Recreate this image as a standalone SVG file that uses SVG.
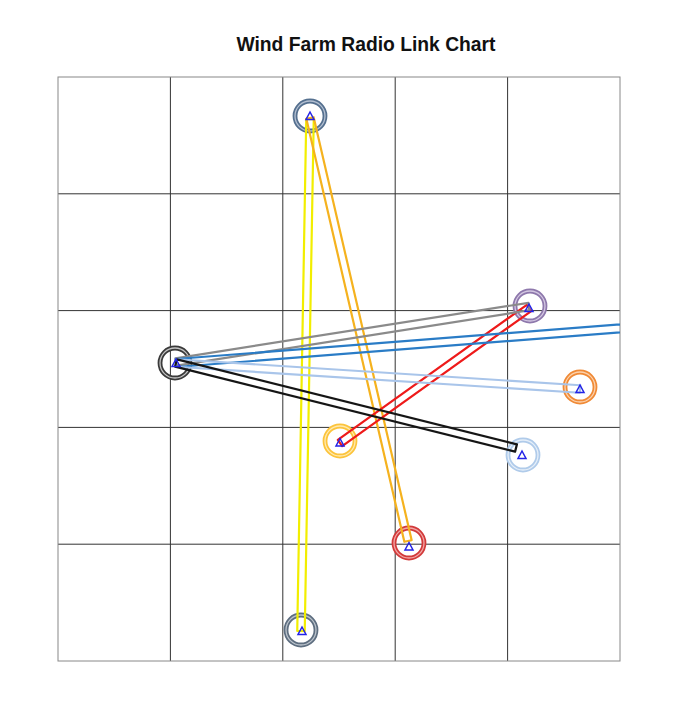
<svg xmlns="http://www.w3.org/2000/svg" width="675" height="720" viewBox="0 0 675 720">
<style>
.title{font-family:"Liberation Sans",Arial,sans-serif;font-size:19.3px;font-weight:bold;fill:#111;text-anchor:middle}
.grid{stroke:#333;stroke-width:1;fill:none}
.border{stroke:#888;stroke-width:1;fill:none}
.link{fill:none;stroke-width:2.2;stroke-linejoin:round}
.ringo{fill:none;stroke-width:4.8}
.ringi{fill:none;stroke-width:1.3}
.tri{fill:none;stroke:#2323e6;stroke-width:1.5;stroke-linejoin:miter}
</style>
<defs>
<clipPath id="plot"><rect x="58" y="77" width="562" height="584"/></clipPath>
</defs>
<rect width="675" height="720" fill="#fff"/>
<text class="title" x="366" y="51">Wind Farm Radio Link Chart</text>
<g id="grid">
<path class="grid" d="M170.4 77V661M282.8 77V661M395.2 77V661M507.6 77V661M58 193.8H620M58 310.6H620M58 427.4H620M58 544.2H620"/>
<rect class="border" x="58" y="77" width="562" height="584"/>
</g>
<g id="rings">
<g id="ring1"><circle class="ringo" cx="310" cy="116" r="15" stroke="#55708f"/><circle class="ringi" cx="310" cy="116" r="15" stroke="#b4c0d2"/></g>
<g id="ring2"><circle class="ringo" cx="175" cy="363" r="15" stroke="#3a3a3a"/><circle class="ringi" cx="175" cy="363" r="15" stroke="#c4c4c4"/></g>
<g id="ring3"><circle class="ringo" cx="530" cy="306" r="15" stroke="#8e78ac"/><circle class="ringi" cx="530" cy="306" r="15" stroke="#d4c8e2"/></g>
<g id="ring4"><circle class="ringo" cx="580" cy="387" r="15" stroke="#f08a36"/><circle class="ringi" cx="580" cy="387" r="15" stroke="#fbd2ae"/></g>
<g id="ring5"><circle class="ringo" cx="340" cy="441" r="15" stroke="#fcc43c"/><circle class="ringi" cx="340" cy="441" r="15" stroke="#ffeab0"/></g>
<g id="ring6"><circle class="ringo" cx="523" cy="455" r="15" stroke="#b0cbea"/><circle class="ringi" cx="523" cy="455" r="15" stroke="#e6eff9"/></g>
<g id="ring7"><circle class="ringo" cx="409" cy="543" r="15" stroke="#d23a3a"/><circle class="ringi" cx="409" cy="543" r="15" stroke="#f2a8a8"/></g>
<g id="ring8"><circle class="ringo" cx="301" cy="630" r="15" stroke="#5e6e80"/><circle class="ringi" cx="301" cy="630" r="15" stroke="#bcc4cc"/></g>
</g>
<g id="connectors" clip-path="url(#plot)">
<polygon class="link" stroke="#f2ee00" points="306.25,118.9 297.25,630.9 304.75,631.1 313.75,119.1"/>
<polygon class="link" stroke="#f5b21e" points="306.35,118.8 404.35,541.8 411.65,540.2 313.65,117.2"/>
<polygon class="link" stroke="#ee1a1a" points="342.18,446.05 531.18,311.05 526.82,304.95 337.82,439.95"/>
<polygon class="link" stroke="#8a8a8a" points="176.58,365.7 529.58,310.2 528.42,302.8 175.42,358.3"/>
<polygon class="link" stroke="#2a7cc6" points="176.31,366.99 700.31,326.09 699.69,318.11 175.69,359.01"/>
<polygon class="link" stroke="#a9c5ea" points="175.76,366.74 579.76,392.74 580.24,385.26 176.24,359.26"/>
<polygon class="link" stroke="#151515" points="175.09,366.64 515.09,451.64 516.91,444.36 176.91,359.36"/>
</g>
<g id="nodes">
<g id="n1"><polygon class="tri" points="310,112 306,119.5 314,119.5"/></g>
<g id="n2"><polygon class="tri" points="176,359 172,366.5 180,366.5"/></g>
<g id="n3"><polygon class="tri" points="529,304 525,311.5 533,311.5"/></g>
<g id="n4"><polygon class="tri" points="580,385 576,392.5 584,392.5"/></g>
<g id="n5"><polygon class="tri" points="340,438.5 336,446 344,446"/></g>
<g id="n6"><polygon class="tri" points="522,451 518,458.5 526,458.5"/></g>
<g id="n7"><polygon class="tri" points="409,542.5 405,550 413,550"/></g>
<g id="n8"><polygon class="tri" points="302,627 298,634.5 306,634.5"/></g>
</g>
</svg>
